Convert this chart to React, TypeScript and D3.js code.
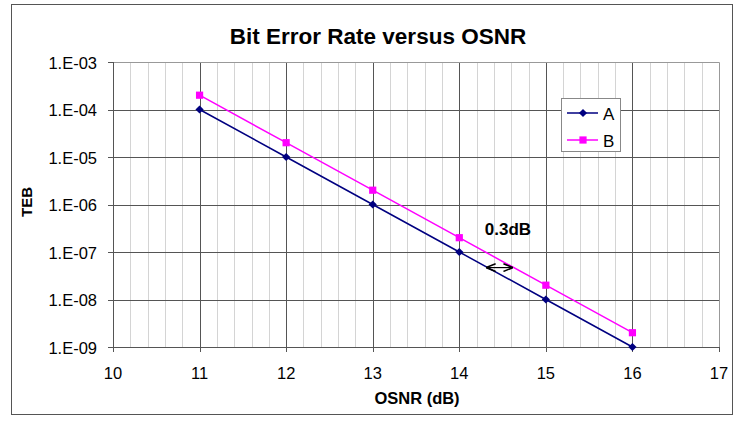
import React, { useEffect, useRef } from 'react';
import * as d3 from 'd3';

const osnr = [11, 12, 13, 14, 15, 16];
const serieA = [1e-4, 1e-5, 1e-6, 1e-7, 1e-8, 1e-9];
const serieB = [2e-4, 2e-5, 2e-6, 2e-7, 2e-8, 2e-9];
const yTicks = [1e-3, 1e-4, 1e-5, 1e-6, 1e-7, 1e-8, 1e-9];
const xTicks = [10, 11, 12, 13, 14, 15, 16, 17];
const arrowX = [14.32, 14.61];
const arrowY = 4.7e-8;

const fmtExp = (v: number) => '1.E-' + String(Math.round(-Math.log10(v))).padStart(2, '0');

export default function App() {
  const ref = useRef<SVGSVGElement>(null);

  useEffect(() => {
    const svg = d3.select(ref.current);
    svg.selectAll('*').remove();
    const W = 739, H = 429;
    const left = 113, right = 719, top = 62, bottom = 347;
    const font = 'Liberation Sans, Arial, sans-serif';

    const x = d3.scaleLinear().domain([10, 17]).range([left, right]);
    const y = d3.scaleLog().domain([1e-9, 1e-3]).range([bottom, top]);

    svg.attr('width', W).attr('height', H);
    svg.append('rect').attr('width', W).attr('height', H).attr('fill', 'white');

    // outer chart border
    svg.append('rect')
      .attr('x', 11.5).attr('y', 4.5).attr('width', 721).attr('height', 410)
      .attr('fill', 'none').attr('stroke', '#555').attr('stroke-width', 1);

    // minor vertical grid
    const minor = d3.range(10, 17.001, 0.2).filter(v => Math.abs(v - Math.round(v)) > 0.01);
    svg.append('g').selectAll('line').data(minor).join('line')
      .attr('x1', d => Math.round(x(d)) + 0.5).attr('x2', d => Math.round(x(d)) + 0.5)
      .attr('y1', top).attr('y2', bottom)
      .attr('stroke', '#d4d4d4');

    // major grid
    svg.append('g').selectAll('line').data(xTicks.slice(1, -1)).join('line')
      .attr('x1', d => Math.round(x(d)) + 0.5).attr('x2', d => Math.round(x(d)) + 0.5)
      .attr('y1', top).attr('y2', bottom)
      .attr('stroke', '#555');
    svg.append('g').selectAll('line').data(yTicks.slice(1, -1)).join('line')
      .attr('x1', left).attr('x2', right)
      .attr('y1', d => Math.round(y(d)) + 0.5).attr('y2', d => Math.round(y(d)) + 0.5)
      .attr('stroke', '#555');

    // plot area border
    svg.append('path')
      .attr('d', `M${left + 0.5},${top + 0.5}H${right + 0.5}V${bottom + 0.5}`)
      .attr('fill', 'none').attr('stroke', '#999');

    // axes
    svg.append('line').attr('x1', left + 0.5).attr('x2', left + 0.5).attr('y1', top).attr('y2', bottom + 0.5)
      .attr('stroke', '#555');
    svg.append('line').attr('x1', left).attr('x2', right + 1).attr('y1', bottom + 0.5).attr('y2', bottom + 0.5)
      .attr('stroke', '#555');

    // ticks
    svg.append('g').selectAll('line').data(yTicks).join('line')
      .attr('x1', left - 5).attr('x2', left)
      .attr('y1', d => Math.round(y(d)) + 0.5).attr('y2', d => Math.round(y(d)) + 0.5)
      .attr('stroke', '#555');
    svg.append('g').selectAll('line').data(xTicks).join('line')
      .attr('x1', d => Math.round(x(d)) + 0.5).attr('x2', d => Math.round(x(d)) + 0.5)
      .attr('y1', bottom).attr('y2', bottom + 5)
      .attr('stroke', '#555');

    // tick labels
    svg.append('g').selectAll('text').data(yTicks).join('text')
      .attr('x', left - 16).attr('y', d => y(d) + 6.5)
      .attr('text-anchor', 'end').attr('font-family', font).attr('font-size', 16.5)
      .text(d => fmtExp(d));
    svg.append('g').selectAll('text').data(xTicks).join('text')
      .attr('x', d => x(d)).attr('y', bottom + 32)
      .attr('text-anchor', 'middle').attr('font-family', font).attr('font-size', 16.5)
      .text(d => String(d));

    // titles
    svg.append('text').attr('x', 378).attr('y', 44)
      .attr('text-anchor', 'middle').attr('font-family', font).attr('font-size', 22.5).attr('font-weight', 'bold')
      .text('Bit Error Rate versus OSNR');
    svg.append('text').attr('x', 417).attr('y', 404)
      .attr('text-anchor', 'middle').attr('font-family', font).attr('font-size', 16.5).attr('font-weight', 'bold')
      .text('OSNR (dB)');
    svg.append('text').attr('transform', `translate(32,202) rotate(-90)`)
      .attr('text-anchor', 'middle').attr('font-family', font).attr('font-size', 15).attr('font-weight', 'bold')
      .text('TEB');

    const line = d3.line<[number, number]>().x(d => x(d[0])).y(d => y(d[1]));
    const dataA = osnr.map((o, i) => [o, serieA[i]] as [number, number]);
    const dataB = osnr.map((o, i) => [o, serieB[i]] as [number, number]);

    svg.append('path').attr('d', line(dataB)).attr('fill', 'none').attr('stroke', '#ff00ff').attr('stroke-width', 1.5);
    svg.append('path').attr('d', line(dataA)).attr('fill', 'none').attr('stroke', '#000080').attr('stroke-width', 1.5);

    const sq = d3.symbol(d3.symbolSquare, 52);
    const dia = d3.symbol(d3.symbolSquare, 34); // rotated 45deg below
    svg.append('g').selectAll('path').data(dataB).join('path')
      .attr('d', sq()).attr('transform', d => `translate(${x(d[0])},${y(d[1])})`).attr('fill', '#ff00ff');
    svg.append('g').selectAll('path').data(dataA).join('path')
      .attr('d', dia()).attr('transform', d => `translate(${x(d[0])},${y(d[1])}) rotate(45)`).attr('fill', '#000080');

    // annotation
    svg.append('defs').html(
      '<marker id="ah" viewBox="0 0 10 10" refX="9" refY="5" markerWidth="8" markerHeight="8" orient="auto-start-reverse">' +
      '<path d="M0,1 L10,5 L0,9" fill="none" stroke="black" stroke-width="1.6"/></marker>');
    svg.append('line')
      .attr('x1', x(arrowX[0])).attr('x2', x(arrowX[1]))
      .attr('y1', y(arrowY)).attr('y2', y(arrowY))
      .attr('stroke', 'black').attr('stroke-width', 1.2)
      .attr('marker-start', 'url(#ah)').attr('marker-end', 'url(#ah)');
    svg.append('text').attr('x', 508).attr('y', 235)
      .attr('text-anchor', 'middle').attr('font-family', font).attr('font-size', 17).attr('font-weight', 'bold')
      .text('0.3dB');

    // legend
    const lg = svg.append('g');
    lg.append('rect').attr('x', 561.5).attr('y', 98.5).attr('width', 59).attr('height', 53)
      .attr('fill', 'white').attr('stroke', '#888');
    const items = [
      { name: 'A', color: '#000080', sym: dia, rot: 45, yy: 113 },
      { name: 'B', color: '#ff00ff', sym: sq, rot: 0, yy: 140 },
    ];
    items.forEach(it => {
      lg.append('line').attr('x1', 567).attr('x2', 598).attr('y1', it.yy).attr('y2', it.yy)
        .attr('stroke', it.color).attr('stroke-width', 1.5);
      lg.append('path').attr('d', it.sym()).attr('transform', `translate(583,${it.yy}) rotate(${it.rot})`).attr('fill', it.color);
      lg.append('text').attr('x', 603).attr('y', it.yy + 6.5).attr('font-family', font).attr('font-size', 17)
        .text(it.name);
    });
  }, []);

  return <svg ref={ref} style={{ position: 'absolute', left: 0, top: 0, display: 'block' }} />;
}
